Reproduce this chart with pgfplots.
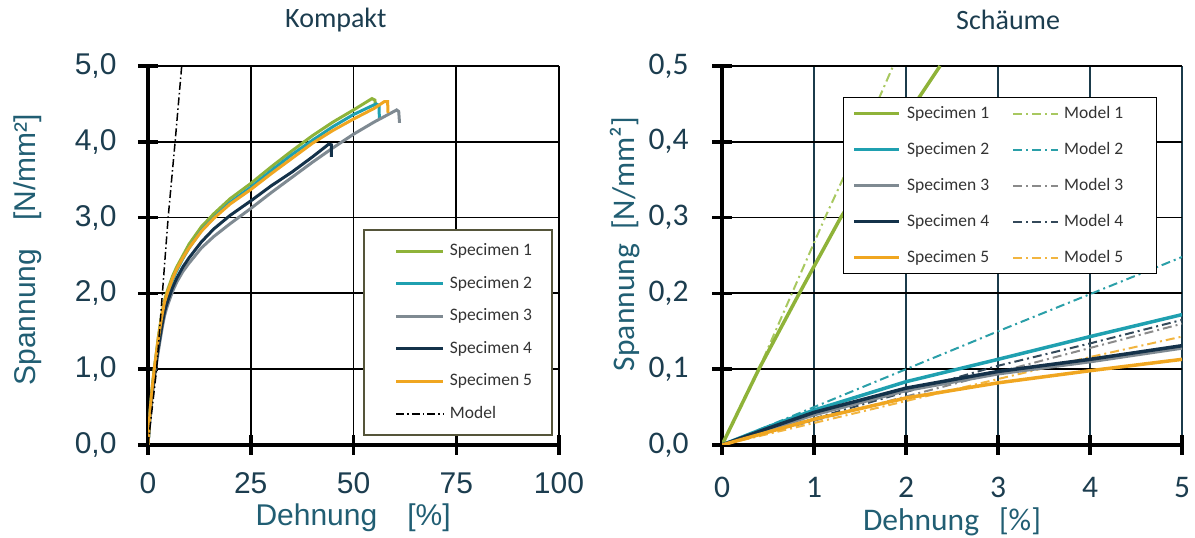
\documentclass[border=0pt]{standalone}
\usepackage{fontspec}
\usepackage{pgfplots}
\pgfplotsset{compat=1.18}
\setmainfont{Liberation Sans}
\newfontfamily\arial{Liberation Sans}
\newfontfamily\calibri{Carlito}
\definecolor{cgreen}{HTML}{8FB339}
\definecolor{cteal}{HTML}{1FA0B0}
\definecolor{cgray}{HTML}{7F8A92}
\definecolor{cnavy}{HTML}{14324A}
\definecolor{corange}{HTML}{F0A620}
\definecolor{mgreen}{HTML}{A8C860}
\definecolor{mteal}{HTML}{2A9FA8}
\definecolor{mgray}{HTML}{8A8A8A}
\definecolor{mnavy}{HTML}{34495A}
\definecolor{morange}{HTML}{F2B540}
\definecolor{ticktext}{HTML}{1C3D4F}
\definecolor{labtext}{HTML}{215E73}
\definecolor{legtext}{HTML}{333333}
\definecolor{legborder}{HTML}{55553A}
\definecolor{vgrid}{HTML}{1B3B4B}
\begin{document}
\begin{tikzpicture}[x=1bp,y=1bp]
\useasboundingbox (0,0) rectangle (1195,538);
% ---------------- Left: Kompakt
\begin{axis}[
  at={(148bp,93bp)}, anchor=south west, scale only axis,
  width=411bp, height=379bp,
  xmin=0, xmax=100, ymin=0, ymax=5, enlargelimits=false,
  xtick={0,25,50,75,100}, xticklabels={0,25,50,75,100},
  ytick={0,1,2,3,4,5}, yticklabels={{0,0},{1,0},{2,0},{3,0},{4,0},{5,0}},
  axis x line=bottom, axis y line=left,
  axis line style={line width=3.5bp, black, -},
  major tick length=20bp, tick align=center,
  tick style={line width=3.5bp, black},
  grid=major, major grid style={line width=1.8bp, black},
  tick label style={font=\arial\fontsize{30bp}{32bp}\selectfont, text=ticktext},
  yticklabel style={xshift=-18bp},
  xticklabel style={yshift=-14bp},
  title={Kompakt},
  title style={at={(axis description cs:0.457,1.105)}, anchor=center,
    font=\calibri\fontsize{28bp}{30bp}\selectfont, text=ticktext},
  xlabel={Dehnung\hspace{30bp}[\%]},
  xlabel style={at={(axis description cs:0.499,-0.193)}, anchor=center,
    font=\arial\fontsize{30bp}{32bp}\selectfont, text=labtext},
  ylabel={Spannung\hspace{28bp}[N/mm²]},
  ylabel style={at={(axis description cs:-0.292,0.515)}, anchor=center, rotate=0,
    font=\arial\fontsize{30bp}{32bp}\selectfont, text=labtext},
  legend cell align=left,
  legend image code/.code={\path (0bp,0bp); \draw[#1] (11bp,0bp) -- (58bp,0bp);},
  legend style={at={(axis description cs:0.523,0.570)}, anchor=north west,
    draw=legborder, line width=2bp, fill=white,
    font=\calibri\fontsize{17.5bp}{20bp}\selectfont, text=legtext,
    inner xsep=20bp, inner ysep=13bp, row sep=15.5bp, column sep=5bp,
    nodes={inner sep=0pt, text height=13bp, text depth=4bp}},
]
\addplot[cgreen, line width=3bp] coordinates {(0,0) (0.5,0.45) (1,0.75) (1.5,1.0) (2,1.2) (2.5,1.42) (3,1.6) (3.5,1.77) (4,1.9) (4.5,2.0) (5,2.08) (6,2.23) (7,2.35) (8.5,2.5) (10,2.65) (13,2.88) (16,3.05) (20,3.25) (25,3.45) (30,3.67) (35,3.88) (40,4.08) (45,4.26) (50,4.42) (54.5,4.57) (55.2,4.55) (55.4,4.47)};
\addlegendentry{Specimen 1}
\addplot[cteal, line width=3bp] coordinates {(0,0) (0.5,0.42) (1,0.72) (1.5,0.96) (2,1.17) (2.5,1.37) (3,1.55) (3.5,1.71) (4,1.85) (4.5,1.95) (5,2.03) (6,2.18) (7,2.3) (8.5,2.46) (10,2.6) (13,2.83) (16,3.0) (20,3.2) (25,3.4) (30,3.62) (35,3.83) (40,4.02) (45,4.2) (50,4.36) (55.5,4.5) (56.2,4.48) (56.3,4.3)};
\addlegendentry{Specimen 2}
\addplot[cgray, line width=3bp] coordinates {(0,0) (0.5,0.38) (1,0.65) (1.5,0.86) (2,1.05) (2.5,1.23) (3,1.4) (3.5,1.56) (4,1.7) (4.5,1.8) (5,1.88) (6,2.03) (7,2.15) (8.5,2.29) (10,2.4) (13,2.6) (16,2.75) (20,2.92) (25,3.12) (30,3.33) (35,3.53) (40,3.73) (45,3.92) (50,4.1) (55,4.26) (60.5,4.42) (61,4.4) (61.2,4.25)};
\addlegendentry{Specimen 3}
\addplot[cnavy, line width=3bp] coordinates {(0,0) (0.5,0.4) (1,0.68) (1.5,0.9) (2,1.1) (2.5,1.28) (3,1.45) (3.5,1.61) (4,1.75) (4.5,1.85) (5,1.93) (6,2.08) (7,2.2) (8.5,2.35) (10,2.47) (13,2.68) (16,2.85) (20,3.03) (25,3.22) (30,3.42) (35,3.6) (40,3.8) (44,3.97) (44.6,3.96) (44.6,3.8)};
\addlegendentry{Specimen 4}
\addplot[corange, line width=3bp] coordinates {(0,0) (0.5,0.44) (1,0.74) (1.5,0.99) (2,1.2) (2.5,1.4) (3,1.58) (3.5,1.74) (4,1.88) (4.5,1.97) (5,2.05) (6,2.2) (7,2.32) (8.5,2.47) (10,2.6) (13,2.82) (16,2.99) (20,3.18) (25,3.37) (30,3.58) (35,3.78) (40,3.98) (45,4.15) (50,4.3) (55,4.44) (57.5,4.53) (58.3,4.53) (58.4,4.38)};
\addlegendentry{Specimen 5}
\addplot[black, line width=1.5bp, dash pattern=on 8bp off 3bp on 1.5bp off 3bp] coordinates {(0,0) (2.1,1) (3.5,2) (4.9,3) (6.6,4) (8.2,5)};
\addlegendentry{Model}
\end{axis}
% ---------------- Right: Schaeume
\begin{axis}[
  at={(722bp,93bp)}, anchor=south west, scale only axis,
  width=460bp, height=379bp,
  xmin=0, xmax=5, ymin=0, ymax=0.5, enlargelimits=false,
  xtick={0,1,2,3,4,5}, xticklabels={0,1,2,3,4,5},
  ytick={0,0.1,0.2,0.3,0.4,0.5}, yticklabels={{0,0},{0,1},{0,2},{0,3},{0,4},{0,5}},
  axis x line=bottom, axis y line=left,
  axis line style={line width=3.5bp, black, -},
  major tick length=20bp, tick align=center,
  tick style={line width=3.5bp, black},
  grid=major,
  major x grid style={line width=1.6bp, vgrid},
  major y grid style={line width=1.8bp, black},
  tick label style={font=\calibri\fontsize{31.5bp}{33bp}\selectfont, text=ticktext},
  yticklabel style={xshift=-20bp},
  xticklabel style={yshift=-19bp},
  title={Schäume},
  title style={at={(axis description cs:0.622,1.105)}, anchor=center,
    font=\calibri\fontsize{28bp}{30bp}\selectfont, text=ticktext},
  xlabel={Dehnung\hspace{20bp}[\%]},
  xlabel style={at={(axis description cs:0.5,-0.203)}, anchor=center,
    font=\calibri\fontsize{31.5bp}{33bp}\selectfont, text=labtext},
  ylabel={Spannung\hspace{14bp}[N/mm²]},
  ylabel style={at={(axis description cs:-0.211,0.53)}, anchor=center, rotate=0,
    font=\calibri\fontsize{31.5bp}{33bp}\selectfont, text=labtext},
  legend columns=2,
  legend cell align=left,
  legend image code/.code={\draw[#1] (0bp,0bp) -- (45bp,0bp);},
  legend style={at={(axis description cs:0.263,0.918)}, anchor=north west,
    draw=black, line width=1.3bp, fill=white,
    font=\calibri\fontsize{17.5bp}{20bp}\selectfont, text=legtext,
    inner xsep=9bp, inner ysep=7.5bp, row sep=19bp,
    nodes={inner sep=0pt, text height=13bp, text depth=4bp},
    /tikz/column 2/.style={column sep=23bp},
    /tikz/column 1/.style={column sep=6bp},
    /tikz/column 3/.style={column sep=5bp}},
]
\addplot[forget plot, mgreen, line width=2bp, dash pattern=on 9bp off 4bp on 2bp off 4bp] coordinates {(0,0) (0.4,0.1) (0.76,0.2) (1.12,0.3) (1.5,0.4) (1.86,0.5)};
\addplot[forget plot, cgreen, line width=3.5bp] coordinates {(0,0) (0.4,0.1) (0.84,0.2) (1.29,0.3) (1.82,0.4) (2.37,0.5)};
\addplot[forget plot, mteal, line width=2bp, dash pattern=on 9bp off 4bp on 2bp off 4bp] coordinates {(0,0) (1,0.05) (2,0.1) (3,0.15) (4,0.199) (5,0.248)};
\addplot[forget plot, mgray, line width=2bp, dash pattern=on 9bp off 4bp on 2bp off 4bp] coordinates {(0,0) (1,0.032) (2,0.064) (3,0.096) (4,0.128) (5,0.16)};
\addplot[forget plot, mnavy, line width=2bp, dash pattern=on 9bp off 4bp on 2bp off 4bp] coordinates {(0,0) (1,0.035) (2,0.07) (3,0.1045) (4,0.134) (5,0.165)};
\addplot[forget plot, morange, line width=2bp, dash pattern=on 9bp off 4bp on 2bp off 4bp] coordinates {(0,0) (1,0.029) (2,0.058) (3,0.087) (4,0.116) (5,0.143)};
\addplot[forget plot, cgray, line width=3.5bp] coordinates {(0,0) (1,0.04) (2,0.072) (3,0.094) (4,0.11) (5,0.128)};
\addplot[forget plot, cteal, line width=3.5bp] coordinates {(0,0) (0.5,0.024) (1,0.046) (2,0.0835) (3,0.113) (4,0.143) (5,0.172)};
\addplot[forget plot, cnavy, line width=3.5bp] coordinates {(0,0) (0.5,0.022) (1,0.043) (2,0.075) (3,0.097) (4,0.113) (5,0.131)};
\addplot[forget plot, corange, line width=3.5bp] coordinates {(0,0) (1,0.034) (2,0.062) (3,0.082) (4,0.098) (5,0.113)};
\addlegendimage{cgreen, line width=3.5bp}\addlegendentry{Specimen 1}
\addlegendimage{mgreen, line width=2bp, dash pattern=on 9bp off 4bp on 2bp off 4bp}\addlegendentry{Model 1\hspace*{24bp}}
\addlegendimage{cteal, line width=3.5bp}\addlegendentry{Specimen 2}
\addlegendimage{mteal, line width=2bp, dash pattern=on 9bp off 4bp on 2bp off 4bp}\addlegendentry{Model 2\hspace*{24bp}}
\addlegendimage{cgray, line width=3.5bp}\addlegendentry{Specimen 3}
\addlegendimage{mgray, line width=2bp, dash pattern=on 9bp off 4bp on 2bp off 4bp}\addlegendentry{Model 3\hspace*{24bp}}
\addlegendimage{cnavy, line width=3.5bp}\addlegendentry{Specimen 4}
\addlegendimage{mnavy, line width=2bp, dash pattern=on 9bp off 4bp on 2bp off 4bp}\addlegendentry{Model 4\hspace*{24bp}}
\addlegendimage{corange, line width=3.5bp}\addlegendentry{Specimen 5}
\addlegendimage{morange, line width=2bp, dash pattern=on 9bp off 4bp on 2bp off 4bp}\addlegendentry{Model 5\hspace*{24bp}}
\end{axis}
\end{tikzpicture}
\end{document}
